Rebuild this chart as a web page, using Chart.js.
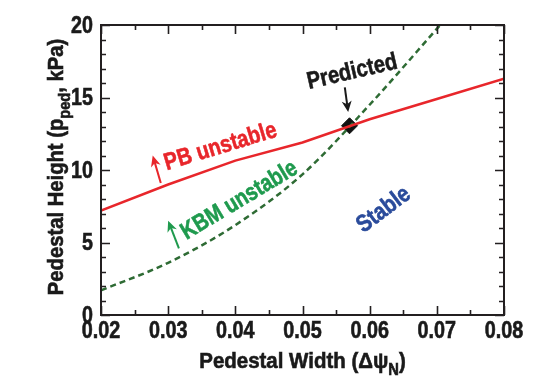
<!DOCTYPE html>
<html>
<head>
<meta charset="utf-8">
<script src="https://cdn.jsdelivr.net/npm/chart.js@4.4.1/dist/chart.umd.min.js"></script>
<style>
html, body { margin: 0; padding: 0; background: #fff; }
</style>
</head>
<body>
<canvas id="chartPedestal" width="535" height="390"></canvas>
<script>
// datos
const anchoPB = [0.02, 0.03, 0.04, 0.05, 0.06, 0.07, 0.08];
const alturaPB = [7.2, 9.0, 10.65, 11.9, 13.5, 14.9, 16.3];

const anchoKBM = [0.02, 0.03, 0.04, 0.05, 0.06, 0.0705];
const alturaKBM = [1.7, 3.6, 6.2, 9.7, 14.5, 20];

const anchoPred = [0.057];
const alturaPred = [13.05];

const ticksX = [0.02, 0.03, 0.04, 0.05, 0.06, 0.07, 0.08];
const ticksY = [0, 5, 10, 15, 20];

const FUENTE = "'Liberation Sans', Arial, sans-serif";
const ROJO = '#e8262b';
const VERDE = '#1f9a4e';
const VERDE_LINEA = '#2e6b34';
const AZUL = '#2a4b9b';
const NEGRO = '#1a1a1a';

function puntos(xs, ys) {
  return xs.map((x, i) => ({ x: x, y: ys[i] }));
}

function flecha(ctx, x1, y1, x2, y2, color) {
  const ang = Math.atan2(y2 - y1, x2 - x1);
  const largo = 11, ancho = 5;
  ctx.save();
  ctx.strokeStyle = color;
  ctx.fillStyle = color;
  ctx.lineWidth = 2;
  ctx.beginPath();
  ctx.moveTo(x1, y1);
  ctx.lineTo(x2 - Math.cos(ang) * largo * 0.7, y2 - Math.sin(ang) * largo * 0.7);
  ctx.stroke();
  ctx.beginPath();
  ctx.moveTo(x2, y2);
  ctx.lineTo(x2 - Math.cos(ang) * largo + Math.sin(ang) * ancho, y2 - Math.sin(ang) * largo - Math.cos(ang) * ancho);
  ctx.lineTo(x2 - Math.cos(ang) * largo * 0.7, y2 - Math.sin(ang) * largo * 0.7);
  ctx.lineTo(x2 - Math.cos(ang) * largo - Math.sin(ang) * ancho, y2 - Math.sin(ang) * largo + Math.cos(ang) * ancho);
  ctx.closePath();
  ctx.fill();
  ctx.restore();
}

// texto condensado (la figura usa letra estrecha): partes [texto, esSub]
function texto(ctx, partes, x, y, grados, color, tam, estrecho, align, base) {
  ctx.save();
  ctx.translate(x, y);
  ctx.rotate(grados * Math.PI / 180);
  ctx.scale(estrecho, 1);
  ctx.fillStyle = color;
  ctx.strokeStyle = color;
  ctx.lineWidth = 0.6;
  ctx.textAlign = 'left';
  ctx.textBaseline = base || 'middle';
  let total = 0;
  partes.forEach(p => {
    ctx.font = 'bold ' + (p[1] ? tam * 0.72 : tam) + 'px ' + FUENTE;
    total += ctx.measureText(p[0]).width;
  });
  let cx = align === 'right' ? -total : -total / 2;
  partes.forEach(p => {
    ctx.font = 'bold ' + (p[1] ? tam * 0.72 : tam) + 'px ' + FUENTE;
    const dy = p[1] ? tam * 0.3 : 0;
    ctx.fillText(p[0], cx, dy);
    ctx.strokeText(p[0], cx, dy);
    cx += ctx.measureText(p[0]).width;
  });
  ctx.restore();
}

const marcoYAnotaciones = {
  id: 'marcoYAnotaciones',
  afterDraw(chart) {
    const ctx = chart.ctx;
    const a = chart.chartArea;
    const sx = chart.scales.x, sy = chart.scales.y;
    const px = v => sx.getPixelForValue(v);
    const py = v => sy.getPixelForValue(v);

    // marco
    ctx.save();
    ctx.strokeStyle = '#231f20';
    ctx.lineWidth = 2;
    ctx.strokeRect(a.left, a.top, a.right - a.left, a.bottom - a.top);

    // marcas hacia dentro
    ctx.lineWidth = 1.6;
    ctx.beginPath();
    for (let i = 0; i <= 12; i++) {
      const v = 0.02 + i * 0.005;
      const l = i % 2 === 0 ? 9 : 5;
      const x = Math.round(px(v)) + 0.5;
      ctx.moveTo(x, a.bottom); ctx.lineTo(x, a.bottom - l);
      ctx.moveTo(x, a.top); ctx.lineTo(x, a.top + l);
    }
    for (let v = 0; v <= 20; v++) {
      const l = v % 5 === 0 ? 9 : 5;
      const y = Math.round(py(v)) + 0.5;
      ctx.moveTo(a.left, y); ctx.lineTo(a.left + l, y);
      ctx.moveTo(a.right, y); ctx.lineTo(a.right - l, y);
    }
    ctx.stroke();
    ctx.restore();

    // etiquetas de los ejes
    ticksX.forEach(v => texto(ctx, [[v.toFixed(2), false]], px(v), a.bottom + 17, 0, NEGRO, 23, 0.86, 'center'));
    ticksY.forEach(v => texto(ctx, [[String(v), false]], a.left - 8, py(v) + 1, 0, NEGRO, 24, 0.82, 'right'));

    // titulos de ejes
    texto(ctx, [['Pedestal Width (\u0394\u03c8', false], ['N', true], [')', false]],
      (a.left + a.right) / 2, 368, 0, NEGRO, 22, 0.93, 'center', 'alphabetic');
    texto(ctx, [['Pedestal Height (p', false], ['ped', true], [', kPa)', false]],
      63, (a.top + a.bottom) / 2 - 3, -90, NEGRO, 22, 0.92, 'center', 'alphabetic');

    // anotaciones
    texto(ctx, [['Predicted', false]], px(0.0574), py(16.75), -13, NEGRO, 24, 0.84, 'center');
    flecha(ctx, px(0.0563), py(15.7), px(0.0568), py(14.0), NEGRO);

    texto(ctx, [['PB unstable', false]], px(0.0378), py(11.6), -17, ROJO, 24, 0.84, 'center');
    flecha(ctx, px(0.0289), py(9.1), px(0.0277), py(11.0), ROJO);

    texto(ctx, [['KBM unstable', false]], px(0.0406), py(7.9), -31, VERDE, 24, 0.82, 'center');
    flecha(ctx, px(0.0316), py(4.6), px(0.0300), py(6.5), VERDE);

    texto(ctx, [['Stable', false]], px(0.0621), py(7.25), -37, AZUL, 24, 0.84, 'center');
  }
};

const ctx = document.getElementById('chartPedestal');
let grafico = new Chart(ctx, {
  type: 'scatter',
  data: {
    datasets: [{
      label: 'PB',
      data: puntos(anchoPB, alturaPB),
      showLine: true,
      borderColor: ROJO,
      borderWidth: 2.5,
      pointRadius: 0,
      tension: 0
    }, {
      label: 'KBM',
      data: puntos(anchoKBM, alturaKBM),
      showLine: true,
      borderColor: VERDE_LINEA,
      borderWidth: 2.5,
      borderDash: [6, 4],
      pointRadius: 0,
      cubicInterpolationMode: 'monotone'
    }, {
      label: 'Predicted',
      data: puntos(anchoPred, alturaPred),
      pointStyle: 'rectRot',
      pointRadius: 8,
      backgroundColor: '#111',
      borderColor: '#111',
      borderWidth: 1
    }]
  },
  options: {
    responsive: false,
    animation: false,
    layout: {
      padding: { top: 25, right: 31, left: 0, bottom: 0 }
    },
    plugins: {
      legend: { display: false },
      tooltip: { enabled: false }
    },
    scales: {
      x: {
        type: 'linear',
        min: 0.02,
        max: 0.08,
        grid: { display: false },
        border: { display: false },
        afterFit: s => { s.height = 75; },
        afterBuildTicks: s => { s.ticks = ticksX.map(v => ({ value: v })); },
        ticks: { display: false }
      },
      y: {
        min: 0,
        max: 20,
        grid: { display: false },
        border: { display: false },
        afterFit: s => { s.width = 101; },
        afterBuildTicks: s => { s.ticks = ticksY.map(v => ({ value: v })); },
        ticks: { display: false }
      }
    }
  },
  plugins: [marcoYAnotaciones]
});
</script>
</body>
</html>
